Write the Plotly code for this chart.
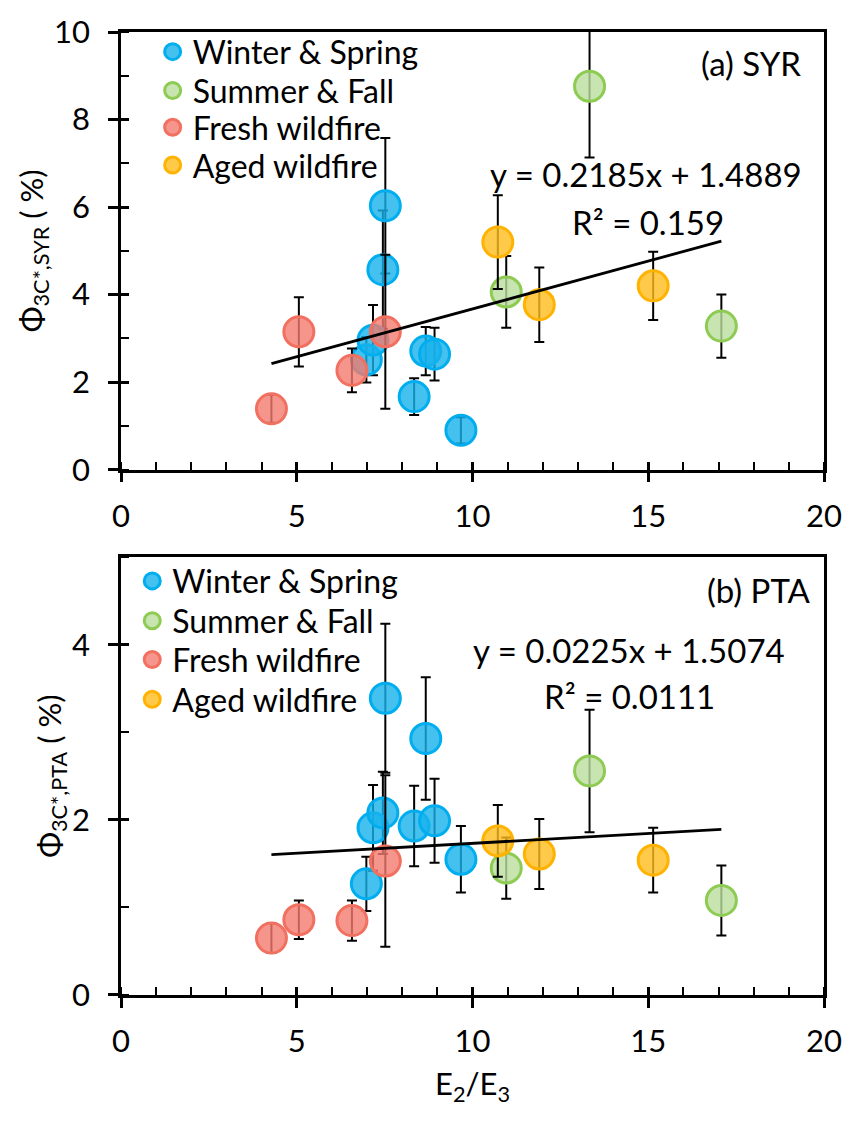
import plotly.graph_objects as go

# ---------------- data ----------------
groups = ["Winter & Spring", "Summer & Fall", "Fresh wildfire", "Aged wildfire"]

ws_x = [6.98, 7.17, 7.45, 7.52, 8.34, 8.67, 8.92, 9.67]
ws_syr = [2.51, 2.96, 4.57, 6.03, 1.67, 2.71, 2.64, 0.90]
ws_syr_err = [0.52, 0.80, 1.35, 1.55, 0.42, 0.55, 0.60, 0.30]
ws_pta = [1.27, 1.91, 2.08, 3.39, 1.93, 2.93, 1.99, 1.55]
ws_pta_err = [0.31, 0.49, 0.47, 0.85, 0.46, 0.70, 0.48, 0.38]

sf_x = [10.96, 13.33, 17.08]
sf_syr = [4.06, 8.76, 3.28]
sf_syr_err = [0.82, 1.63, 0.72]
sf_pta = [1.45, 2.56, 1.08]
sf_pta_err = [0.35, 0.70, 0.40]

fw_x = [4.28, 5.06, 6.57, 7.52]
fw_syr = [1.39, 3.15, 2.27, 3.15]
fw_syr_err = [0.32, 0.79, 0.50, 1.76]
fw_pta = [0.65, 0.86, 0.85, 1.53]
fw_pta_err = [0.17, 0.22, 0.23, 0.98]

aw_x = [10.72, 11.90, 15.14]
aw_syr = [5.20, 3.77, 4.20]
aw_syr_err = [1.07, 0.85, 0.78]
aw_pta = [1.76, 1.61, 1.54]
aw_pta_err = [0.41, 0.40, 0.37]

syr_slope, syr_intercept, syr_r2 = 0.2185, 1.4889, "0.159"
pta_slope, pta_intercept, pta_r2 = 0.0225, 1.5074, "0.0111"

x_ticks = [0, 5, 10, 15, 20]

# ---------------- style ----------------
FONT = "Lato"
fills = ["rgba(23,178,236,0.8)", "rgba(186,221,156,0.8)",
         "rgba(242,123,110,0.8)", "rgba(255,188,29,0.8)"]
borders = ["#00AEEF", "#8DCB52", "#F2705F", "#FFB300"]

# legend placement (paper coords) per panel, one legend per item
top_leg_x, top_leg_y = 0.045, [0.9794, 0.9391, 0.9009, 0.8616]
bot_leg_x, bot_leg_y = 0.016, [0.4298, 0.3885, 0.3482, 0.3069]

fig = go.Figure()

all_x = ws_x + sf_x + fw_x + aw_x
xmin, xmax = min(all_x), max(all_x)

panels = [
    ("x", "y", [ws_syr, sf_syr, fw_syr, aw_syr],
     [ws_syr_err, sf_syr_err, fw_syr_err, aw_syr_err], 0, syr_slope, syr_intercept),
    ("x2", "y2", [ws_pta, sf_pta, fw_pta, aw_pta],
     [ws_pta_err, sf_pta_err, fw_pta_err, aw_pta_err], 4, pta_slope, pta_intercept),
]
xs = [ws_x, sf_x, fw_x, aw_x]

def legname(k):
    return "legend" if k == 0 else f"legend{k + 1}"

for xa, ya, ys, errs, loff, m, b in panels:
    for i, g in enumerate(groups):
        fig.add_trace(go.Scatter(
            x=xs[i], y=ys[i], mode="markers", name=g, xaxis=xa, yaxis=ya,
            legend=legname(loff + i),
            marker=dict(size=30, color=fills[i], line=dict(color=borders[i], width=3)),
            error_y=dict(type="data", array=errs[i], visible=True,
                         color="black", thickness=2, width=5),
        ))
    fig.add_trace(go.Scatter(
        x=[xmin, xmax], y=[m * xmin + b, m * xmax + b], mode="lines",
        line=dict(color="black", width=2.8), xaxis=xa, yaxis=ya, showlegend=False,
    ))

axis_common = dict(
    showline=True, linecolor="black", linewidth=2.5, mirror=True,
    showgrid=False, zeroline=False, ticks="outside", ticklen=10, tickwidth=2.5,
    tickcolor="black", tickfont=dict(family=FONT, size=31, color="black"),
)
minor = dict(ticks="inside", ticklen=8, tickwidth=2, dtick=1, tickcolor="black")

top_dom = [0.5455, 1.0]
bot_dom = [0.0, 0.4545]

fig.update_layout(
    width=854, height=1122,
    margin=dict(l=121, r=28, t=27, b=127),
    paper_bgcolor="white", plot_bgcolor="white",
    font=dict(family=FONT, size=30, color="black"),
    xaxis=dict(**axis_common, domain=[0, 1], anchor="y", range=[0, 20],
               tickvals=x_ticks, minor=minor, ticklabelstandoff=7),
    yaxis=dict(**axis_common, domain=top_dom, anchor="x", range=[0, 10], dtick=2,
               minor=minor, ticklabelstandoff=12,
               title=dict(text="Φ<sub>3C*,SYR</sub> ( %)", font=dict(family=FONT, size=31),
                          standoff=2)),
    xaxis2=dict(**axis_common, domain=[0, 1], anchor="y2", range=[0, 20],
                tickvals=x_ticks, minor=minor, ticklabelstandoff=7,
                title=dict(text="E<sub>2</sub>/E<sub>3</sub>", font=dict(family=FONT, size=31),
                           standoff=16)),
    yaxis2=dict(**axis_common, domain=bot_dom, anchor="x2", range=[0, 5], dtick=2,
                minor=minor, ticklabelstandoff=12,
                title=dict(text="Φ<sub>3C*,PTA</sub> ( %)", font=dict(family=FONT, size=31),
                           standoff=2)),
    showlegend=True,
)

leg_style = dict(xanchor="left", yanchor="middle", font=dict(family=FONT, size=32),
                 bgcolor="rgba(0,0,0,0)", itemwidth=30)
for i in range(4):
    fig.update_layout({legname(i): dict(**leg_style, x=top_leg_x, y=top_leg_y[i]),
                       legname(4 + i): dict(**leg_style, x=bot_leg_x, y=bot_leg_y[i])})

# inside halves of major ticks (overlay axes)
inside_major = dict(showline=False, showgrid=False, zeroline=False, ticks="inside",
                    ticklen=8, tickwidth=2.5, tickcolor="black", showticklabels=False)
fig.update_layout(
    xaxis3=dict(**inside_major, overlaying="x", anchor="y", range=[0, 20], tickvals=x_ticks),
    yaxis3=dict(**inside_major, overlaying="y", anchor="x", range=[0, 10], dtick=2),
    xaxis4=dict(**inside_major, overlaying="x2", anchor="y2", range=[0, 20], tickvals=x_ticks),
    yaxis4=dict(**inside_major, overlaying="y2", anchor="x2", range=[0, 5], dtick=2),
)
fig.add_trace(go.Scatter(x=[None], y=[None], xaxis="x3", yaxis="y3", showlegend=False, hoverinfo="skip"))
fig.add_trace(go.Scatter(x=[None], y=[None], xaxis="x4", yaxis="y4", showlegend=False, hoverinfo="skip"))

ann_font = dict(family=FONT, size=33, color="black")
fig.add_annotation(text="(a) SYR", xref="x domain", yref="y domain", x=0.97, y=0.93,
                   xanchor="right", yanchor="middle", showarrow=False, font=ann_font)
fig.add_annotation(text=f"y = {syr_slope}x + {syr_intercept}", xref="x domain", yref="y domain",
                   x=0.747, y=0.675, xanchor="center", yanchor="middle", showarrow=False, font=ann_font)
fig.add_annotation(text=f"R² = {syr_r2}", xref="x domain", yref="y domain",
                   x=0.749, y=0.565, xanchor="center", yanchor="middle", showarrow=False, font=ann_font)
fig.add_annotation(text="(b) PTA", xref="x2 domain", yref="y2 domain", x=0.985, y=0.925,
                   xanchor="right", yanchor="middle", showarrow=False, font=ann_font)
fig.add_annotation(text=f"y = {pta_slope}x + {pta_intercept}", xref="x2 domain", yref="y2 domain",
                   x=0.722, y=0.788, xanchor="center", yanchor="middle", showarrow=False, font=ann_font)
fig.add_annotation(text=f"R² = {pta_r2}", xref="x2 domain", yref="y2 domain",
                   x=0.723, y=0.684, xanchor="center", yanchor="middle", showarrow=False, font=ann_font)

fig.write_html("out.html")
